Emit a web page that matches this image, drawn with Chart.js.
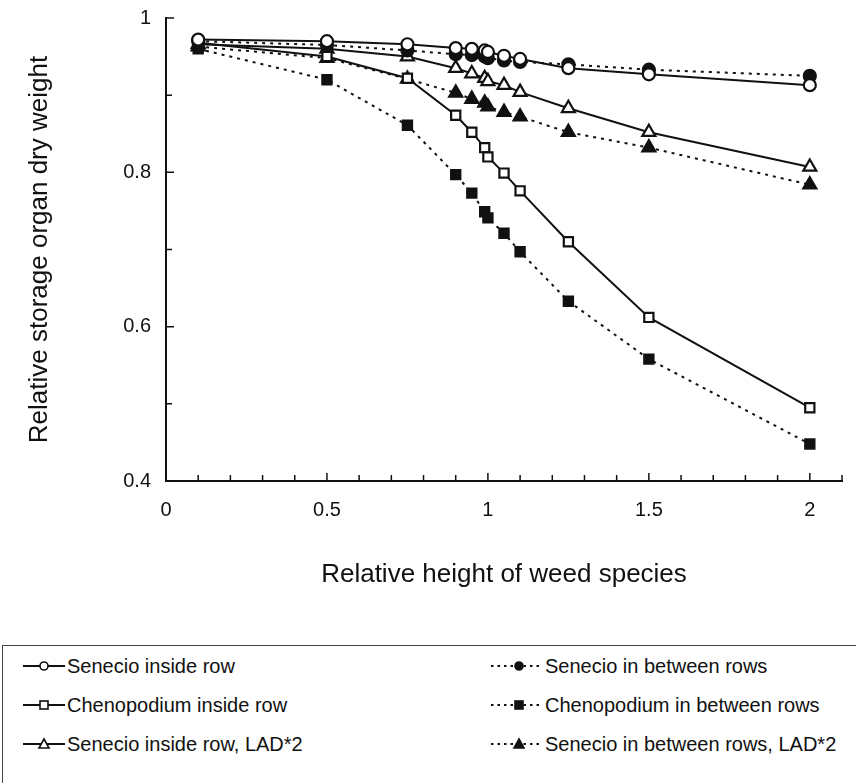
<!DOCTYPE html>
<html>
<head>
<meta charset="utf-8">
<script src="https://cdn.jsdelivr.net/npm/chart.js"></script>
<style>
    body { margin: 0; background: #fff; font-family: "Liberation Sans", Arial, sans-serif; overflow: hidden; }
    #wrap { position: absolute; left: 0; top: 0; width: 856px; height: 620px; }
    .legend {
        position: absolute;
        left: 2px;
        top: 645px;
        width: 900px;
        height: 170px;
        border: 1px solid #444;
        color: #111;
        font-size: 20px;
    }
    .item { position: absolute; display: flex; align-items: center; height: 24px; }
    .item svg { margin-right: 2px; }
</style>
</head>
<body>
<div id="wrap"><canvas id="chart"></canvas></div>
<div class="legend" id="legend"></div>

<script>
// -----------------------------
// DATA
// -----------------------------
const xValues = [0.1, 0.5, 0.75, 0.9, 0.95, 0.99, 1.0, 1.05, 1.1, 1.25, 1.5, 2.0];

const senecioInside      = [0.972, 0.970, 0.966, 0.961, 0.960, 0.958, 0.956, 0.951, 0.947, 0.935, 0.927, 0.913];
const senecioBetween     = [0.970, 0.965, 0.958, 0.953, 0.952, 0.950, 0.948, 0.945, 0.943, 0.940, 0.933, 0.925];
const chenoInside        = [0.968, 0.950, 0.922, 0.874, 0.852, 0.832, 0.820, 0.799, 0.776, 0.710, 0.612, 0.495];
const chenoBetween       = [0.960, 0.920, 0.861, 0.797, 0.773, 0.749, 0.741, 0.721, 0.697, 0.633, 0.558, 0.448];
const senecioInsideLad   = [0.966, 0.960, 0.950, 0.935, 0.928, 0.922, 0.918, 0.913, 0.904, 0.883, 0.852, 0.807];
const senecioBetweenLad  = [0.963, 0.948, 0.921, 0.903, 0.895, 0.890, 0.885, 0.878, 0.872, 0.852, 0.832, 0.784];

const xTickValues = [0, 0.5, 1, 1.5, 2];
const yTickValues = [0.4, 0.6, 0.8, 1];

const seriesNames = [
    "Senecio inside row",
    "Senecio in between rows",
    "Chenopodium inside row",
    "Chenopodium in between rows",
    "Senecio inside row, LAD*2",
    "Senecio in between rows, LAD*2"
];

const INK = "#111";
const FONT = "'Liberation Sans', Arial, sans-serif";

function pts(vals) {
    return vals.map((v, i) => ({ x: xValues[i], y: v }));
}

function series(label, vals, shape, filled) {
    return {
        label: label,
        data: pts(vals),
        borderColor: INK,
        borderWidth: 2,
        borderDash: filled ? [3, 5] : [],
        pointStyle: shape,
        pointRadius: shape === "triangle" ? 7.5 : (shape === "rect" ? 6.5 : 6),
        pointBorderWidth: 2.2,
        pointBorderColor: INK,
        pointBackgroundColor: filled ? INK : "#fff",
        tension: 0,
        fill: false
    };
}

const datasets = [
    series(seriesNames[0], senecioInside, "circle", false),
    series(seriesNames[1], senecioBetween, "circle", true),
    series(seriesNames[2], chenoInside, "rect", false),
    series(seriesNames[3], chenoBetween, "rect", true),
    series(seriesNames[4], senecioInsideLad, "triangle", false),
    series(seriesNames[5], senecioBetweenLad, "triangle", true)
];

// -----------------------------
// INWARD TICK MARKS
// -----------------------------
const inwardTicks = {
    id: "inwardTicks",
    afterDraw(chart) {
        const ctx = chart.ctx;
        const xs = chart.scales.x, ys = chart.scales.y;
        const a = chart.chartArea;
        ctx.save();
        ctx.strokeStyle = INK;
        ctx.lineWidth = 1.5;
        ctx.beginPath();
        for (let i = 0; i <= 21; i++) {
            const px = xs.getPixelForValue(i / 10);
            const len = i % 5 === 0 ? 8 : 6;
            ctx.moveTo(px, a.bottom);
            ctx.lineTo(px, a.bottom - len);
        }
        for (let i = 4; i <= 10; i++) {
            const py = ys.getPixelForValue(i / 10);
            const len = i % 2 === 0 ? 8 : 6;
            ctx.moveTo(a.left, py);
            ctx.lineTo(a.left + len, py);
        }
        ctx.stroke();
        ctx.restore();
    }
};

new Chart(document.getElementById("chart"), {
    type: "line",
    data: { datasets: datasets },
    options: {
        responsive: true,
        maintainAspectRatio: false,
        animation: false,
        layout: { padding: { left: 0, right: 14, top: 18, bottom: 0 } },
        plugins: {
            legend: { display: false },
            tooltip: { enabled: false }
        },
        scales: {
            x: {
                type: "linear",
                min: 0,
                max: 2.1,
                afterBuildTicks(s) { s.ticks = xTickValues.map(v => ({ value: v })); },
                afterFit(s) { s.height = 139; s.paddingLeft = 0; s.paddingRight = 0; },
                grid: { display: false, drawTicks: false },
                border: { display: true, color: INK, width: 2 },
                ticks: {
                    color: INK,
                    padding: 17,
                    maxRotation: 0,
                    font: { family: FONT, size: 20 },
                    callback: v => String(v)
                },
                title: {
                    display: true,
                    text: "Relative height of weed species",
                    color: INK,
                    padding: { top: 0, bottom: 30 },
                    font: { family: FONT, size: 26 }
                }
            },
            y: {
                type: "linear",
                min: 0.4,
                max: 1,
                afterBuildTicks(s) { s.ticks = yTickValues.map(v => ({ value: v })); },
                afterFit(s) { s.width = 166; s.paddingTop = 0; s.paddingBottom = 0; },
                grid: { display: false, drawTicks: false },
                border: { display: true, color: INK, width: 2 },
                ticks: {
                    color: INK,
                    padding: 15,
                    font: { family: FONT, size: 20 },
                    callback: v => String(v)
                },
                title: {
                    display: true,
                    text: "Relative storage organ dry weight",
                    color: INK,
                    padding: { top: 24, bottom: 0 },
                    font: { family: FONT, size: 26 }
                }
            }
        }
    },
    plugins: [inwardTicks]
});

// -----------------------------
// LEGEND (html)
// -----------------------------
function sampleSvg(shape, filled, width, markerX) {
    const dash = filled ? 'stroke-dasharray="2.5 4"' : "";
    const fill = filled ? INK : "#fff";
    let m = "";
    if (shape === "circle") m = `<circle cx="${markerX}" cy="12" r="4" fill="${fill}" stroke="${INK}" stroke-width="1.6"/>`;
    if (shape === "rect") m = `<rect x="${markerX - 4}" y="8" width="8" height="8" fill="${fill}" stroke="${INK}" stroke-width="1.6"/>`;
    if (shape === "triangle") m = `<polygon points="${markerX},7 ${markerX + 5},16 ${markerX - 5},16" fill="${fill}" stroke="${INK}" stroke-width="1.6"/>`;
    return `<svg width="${width}" height="24"><line x1="0" y1="12" x2="${width}" y2="12" stroke="${INK}" stroke-width="${filled ? 2 : 2.2}" ${dash}/>${m}</svg>`;
}

const legendShapes = ["circle", "circle", "rect", "rect", "triangle", "triangle"];
const legendEl = document.getElementById("legend");
seriesNames.forEach((name, i) => {
    const row = Math.floor(i / 2), col = i % 2;
    const filled = col === 1;
    const el = document.createElement("div");
    el.className = "item";
    el.style.top = (8 + row * 39) + "px";
    el.style.left = col === 0 ? "20px" : "488px";
    el.innerHTML = sampleSvg(legendShapes[i], filled, col === 0 ? 42 : 52, col === 0 ? 21 : 28)
        + `<span>${name}</span>`;
    legendEl.appendChild(el);
});
</script>
</body>
</html>
